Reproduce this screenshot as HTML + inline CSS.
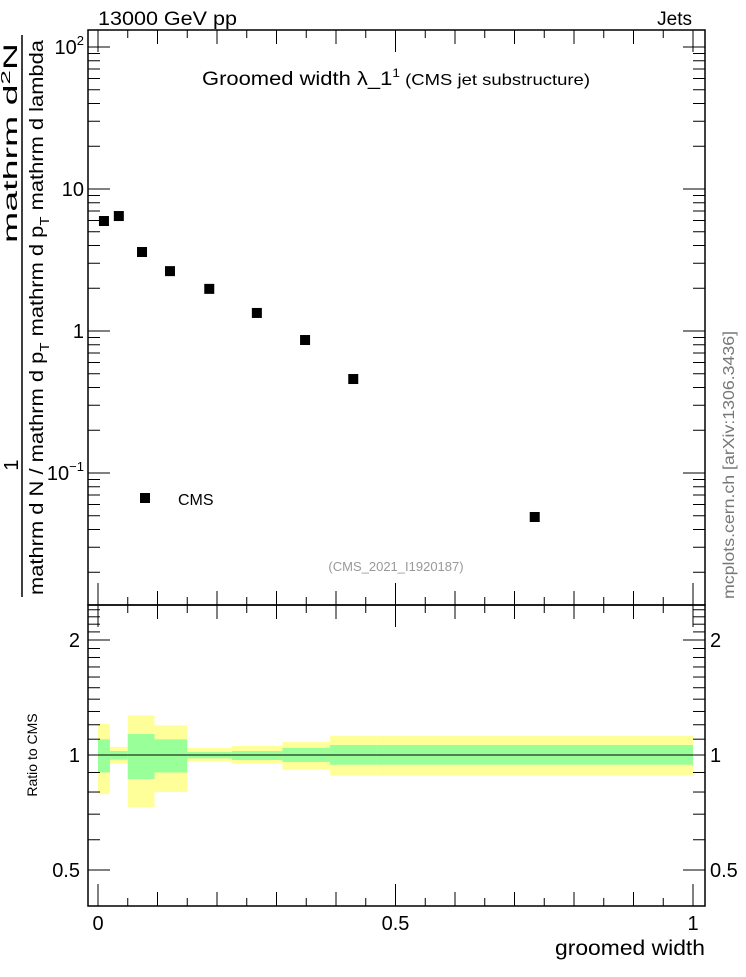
<!DOCTYPE html>
<html><head><meta charset="utf-8"><style>
body{margin:0;background:#fff;}
svg text{font-family:"Liberation Sans",sans-serif;}
</style></head><body>
<svg id="c" width="746" height="972" xmlns="http://www.w3.org/2000/svg">
<text x="98" y="25" font-size="19" textLength="139" lengthAdjust="spacingAndGlyphs">13000 GeV pp</text>
<text x="692" y="25" font-size="19" text-anchor="end">Jets</text>
<text x="202" y="85" font-size="19" textLength="388" lengthAdjust="spacingAndGlyphs">Groomed width  λ_1<tspan dy="-8" font-size="12">1</tspan><tspan dy="8" font-size="16"> (CMS jet substructure)</tspan></text>
<text x="396" y="571" font-size="13" fill="#999" text-anchor="middle">(CMS_2021_I1920187)</text>
<text transform="translate(734,465) rotate(-90)" font-size="16" fill="#777" text-anchor="middle" textLength="268" lengthAdjust="spacingAndGlyphs">mcplots.cern.ch [arXiv:1306.3436]</text>
<g>
<line x1="22" y1="35" x2="22" y2="597" stroke="#000" stroke-width="1.5"/>
<text transform="translate(18,465) rotate(-90)" font-size="20" text-anchor="middle">1</text>
<text transform="translate(17,243) rotate(-90)" font-size="19" textLength="200" lengthAdjust="spacingAndGlyphs">mathrm d<tspan dy="-7" font-size="13">2</tspan><tspan dy="7">N</tspan></text>
<text transform="translate(43,595) rotate(-90)" font-size="19" textLength="555" lengthAdjust="spacingAndGlyphs">mathrm d N / mathrm d p<tspan dy="6" font-size="13">T</tspan><tspan dy="-6"> mathrm d p</tspan><tspan dy="6" font-size="13">T</tspan><tspan dy="-6"> mathrm d lambda</tspan></text>
</g>
<text transform="translate(37,755) rotate(-90)" font-size="14" text-anchor="middle">Ratio to CMS</text>
<text x="705" y="955" font-size="21" text-anchor="end" textLength="150" lengthAdjust="spacingAndGlyphs">groomed width</text>
<g id="g"></g>
</svg>
<script>
const binLo=[0,0.02,0.05,0.095,0.15,0.225,0.31,0.39,0.47];
const binHi=[0.02,0.05,0.095,0.15,0.225,0.31,0.39,0.47,1];
const xCenters=[0.01,0.035,0.074,0.121,0.187,0.267,0.348,0.429,0.734];
const yValues=[5.95,6.45,3.6,2.64,1.98,1.34,0.864,0.459,0.049];
const yellowHi=[1.205,1.05,1.27,1.196,1.043,1.056,1.081,1.123,1.123];
const yellowLo=[0.79,0.949,0.73,0.80,0.96,0.949,0.915,0.883,0.883];
const greenHi=[1.099,1.024,1.135,1.099,1.018,1.024,1.043,1.062,1.062];
const greenLo=[0.90,0.972,0.865,0.90,0.98,0.97,0.959,0.943,0.943];
const xTickLabels=["0","0.5","1"];
const xTickValues=[0,0.5,1];

const NS="http://www.w3.org/2000/svg",g=document.getElementById('g');
const L=88,R=705,T=30,MB=605,RB=906;
const X=v=>98+v*595;
const Y=v=>331-Math.log10(v)*142;
const RY=v=>755-Math.log2(v)*115;
function el(t,a){const e=document.createElementNS(NS,t);for(const k in a)e.setAttribute(k,a[k]);g.appendChild(e);return e;}
for(let i=0;i<binLo.length;i++){
 const y=el('rect',{x:X(binLo[i]),y:RY(yellowHi[i]),width:X(binHi[i])-X(binLo[i]),height:RY(yellowLo[i])-RY(yellowHi[i]),fill:'#ffff99'});
 
 
 const gr=el('rect',{x:X(binLo[i]),y:RY(greenHi[i]),width:X(binHi[i])-X(binLo[i]),height:RY(greenLo[i])-RY(greenHi[i]),fill:'#99ff99'});
 
 
}
el('line',{x1:X(0),x2:X(1),y1:RY(1),y2:RY(1),stroke:'#000','stroke-width':1});
const f1=el('rect',{x:L,y:T,width:R-L,height:MB-T,fill:'none',stroke:'#000','stroke-width':1.5});


const f2=el('rect',{x:L,y:MB,width:R-L,height:RB-MB,fill:'none',stroke:'#000','stroke-width':1.5});


for(let k=0;k<=20;k++){const v=k*0.05;const len=k%10==0?22:(k%2==0?14:8);const x=X(v);
 for(const [b,t] of [[MB,T],[RB,MB]]){el('line',{x1:x,x2:x,y1:b,y2:b-len,stroke:'#000'});el('line',{x1:x,x2:x,y1:t,y2:t+len,stroke:'#000'});}}
xTickValues.forEach((v,i)=>{const t=el('text',{x:X(v),y:930,'font-size':20,'text-anchor':'middle'});t.textContent=xTickLabels[i];
 
 });
for(let d=-2;d<=2;d++)for(let m=1;m<10;m++){const v=m*Math.pow(10,d);const y=Y(v);if(y<T||y>MB)continue;const len=m==1?22:12;
 el('line',{x1:L,x2:L+len,y1:y,y2:y,stroke:'#000'});el('line',{x1:R,x2:R-len,y1:y,y2:y,stroke:'#000'});}
[[100,'10','2'],[10,'10',''],[1,'1',''],[0.1,'10','−1']].forEach(([v,a,s])=>{const t=el('text',{x:84,y:Y(v)+7,'font-size':20,'text-anchor':'end'});
 t.innerHTML=a+(s?'<tspan dy="-9" font-size="13">'+s+'</tspan>':'');
 
 });
[0.5,0.6,0.7,0.8,0.9,1,1.1,1.2,1.3,1.4,1.5,1.6,1.7,1.8,1.9,2,2.1,2.2,2.3,2.4].forEach(v=>{const y=RY(v);if(y<MB||y>RB)return;const len=[0.5,1,2].includes(v)?22:12;
 el('line',{x1:L,x2:L+len,y1:y,y2:y,stroke:'#000'});el('line',{x1:R,x2:R-len,y1:y,y2:y,stroke:'#000'});});
[[2,'2'],[1,'1'],[0.5,'0.5']].forEach(([v,s])=>{for(const [x,a] of [[80,'end'],[710,'start']]){const t=el('text',{x:x,y:RY(v)+7,'font-size':20,'text-anchor':a});t.textContent=s;
 
 }});
xCenters.forEach((v,i)=>{const r=el('rect',{x:X(v)-5,y:Y(yValues[i])-5,width:10,height:10,fill:'#000'});
 
 });
const lg=el('rect',{x:140,y:493,width:10,height:10,fill:'#000'});


const lt=el('text',{x:178,y:505,'font-size':16});lt.textContent='CMS';


</script>
</body></html>
